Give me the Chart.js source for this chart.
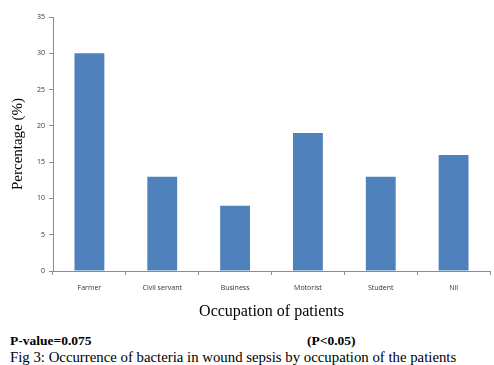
<!DOCTYPE html>
<html>
<head>
<meta charset="utf-8">
<script src="https://cdn.jsdelivr.net/npm/chart.js@4"></script>
<style>
  body { margin: 0; background: #fff; width: 494px; height: 365px; overflow: hidden; position: relative; }
  #wrap { position: absolute; left: 0; top: 0; width: 494px; height: 330px; }
  .note { position: absolute; font-family: "Liberation Serif", "Times New Roman", serif; color: #000; white-space: nowrap; }
  .bold { font-weight: bold; font-size: 13.5px; }
</style>
</head>
<body>
<div id="wrap"><canvas id="chart"></canvas></div>
<div class="note bold" style="left:10px; top:333px;">P-value=0.075</div>
<div class="note bold" style="left:307px; top:333px;">(P&lt;0.05)</div>
<div class="note" style="left:10px; top:349px; font-size:14.8px;">Fig 3: Occurrence of bacteria in wound sepsis by occupation of the patients</div>
<script>
// categorias y valores
const occupations = ['Farmer', 'Civil servant', 'Business', 'Motorist', 'Student', 'Nil'];
const percentages = [30, 13, 9, 19, 13, 16];
const yTicks = [0, 5, 10, 15, 20, 25, 30, 35];

const axisGray = '#8c8c8c';
const tickFont = { family: '"Open Sans", "Liberation Sans", sans-serif', size: 7 };

new Chart(document.getElementById('chart').getContext('2d'), {
    type: 'bar',
    data: {
        labels: occupations,
        datasets: [{
            data: percentages,
            backgroundColor: '#4F81BD',
            borderWidth: 0,
            categoryPercentage: 1,
            barPercentage: 0.41
        }]
    },
    options: {
        responsive: true,
        maintainAspectRatio: false,
        animation: false,
        layout: { padding: { top: 17, right: 4, left: 0, bottom: 9 } },
        plugins: { legend: { display: false }, tooltip: { enabled: false } },
        scales: {
            x: {
                grid: { drawOnChartArea: false, color: axisGray, tickLength: 4, offset: true },
                border: { color: axisGray },
                ticks: { color: '#333', font: tickFont, padding: 9, maxRotation: 0 },
                title: {
                    display: true,
                    text: 'Occupation of patients',
                    color: '#000',
                    font: { family: '"Liberation Serif", serif', size: 16 },
                    padding: { top: 10, bottom: 0 }
                },
                afterFit: (scale) => { scale.height = 50; }
            },
            y: {
                min: 0,
                max: 35,
                afterBuildTicks: (scale) => { scale.ticks = yTicks.map(v => ({ value: v })); },
                grid: { drawOnChartArea: false, color: axisGray, tickLength: 4 },
                border: { color: axisGray },
                ticks: { color: '#333', font: tickFont, padding: 4 },
                title: {
                    display: true,
                    text: 'Percentage (%)',
                    color: '#000',
                    font: { family: '"Liberation Serif", serif', size: 15 },
                    padding: { top: 9, bottom: 0 }
                },
                afterFit: (scale) => { scale.width = 53; }
            }
        }
    }
});
</script>
</body>
</html>
